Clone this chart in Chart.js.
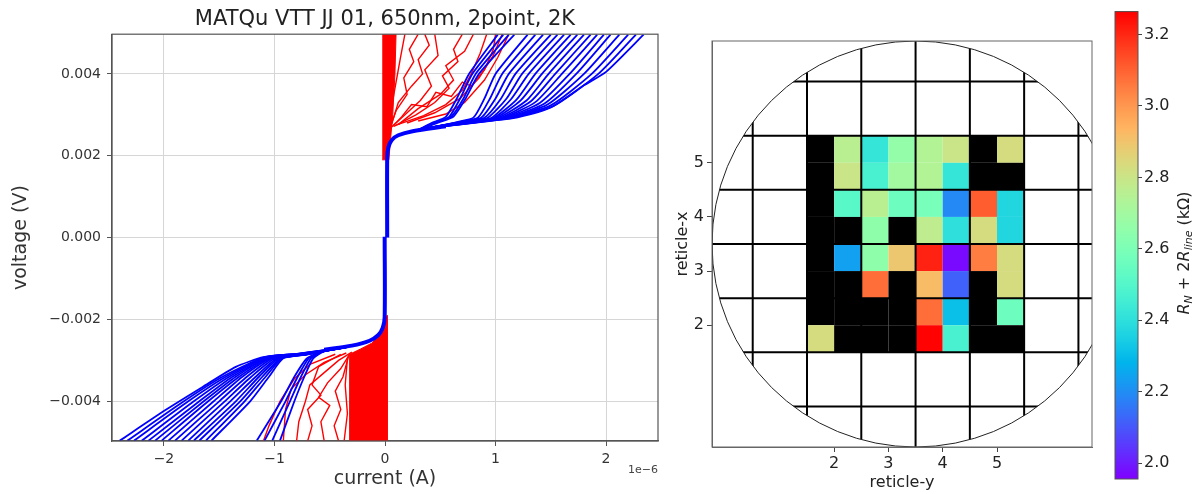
<!DOCTYPE html>
<html>
<head>
<meta charset="utf-8">
<script src="https://cdn.jsdelivr.net/npm/chart.js@4.4.0/dist/chart.umd.min.js"></script>
<style>
body { margin: 0; background: #fff; width: 1197px; height: 494px; overflow: hidden; position: relative; }
canvas { position: absolute; top: 0; }
#ivChart { left: 0; }
#mapChart { left: 670px; }
#barChart { left: 1100px; }
</style>
</head>
<body>
<canvas id="ivChart" width="670" height="494"></canvas>
<canvas id="mapChart" width="430" height="494"></canvas>
<canvas id="barChart" width="97" height="494"></canvas>
<script>
// IV curves: current in 1e-6 A, voltage in mV
const currentTicks = [-2, -1, 0, 1, 2];
const voltTicks = [-4, -2, 0, 2, 4];

const blueCorePos = [[0.02, 0], [0.02, 1.95], [0.03, 2.2], [0.06, 2.38], [0.12, 2.5], [0.25, 2.6], [0.55, 2.72]];
const blueCoreNeg = [[-0.003, 0.02], [-0.003, -1.95], [-0.02, -2.2], [-0.06, -2.38], [-0.14, -2.52], [-0.3, -2.64], [-0.55, -2.74]];

const bluePosTails = [
    [[0.4, 2.68], [0.66, 2.83], [0.8, 2.93], [0.9, 3.4], [1.0, 4.0], [1.29, 4.96]],
    [[0.4, 2.68], [0.68, 2.83], [0.84, 2.93], [0.95, 3.4], [1.06, 4.0], [1.36, 4.96]],
    [[0.4, 2.68], [0.7, 2.83], [0.87, 2.93], [1.0, 3.4], [1.12, 4.0], [1.43, 4.96]],
    [[0.4, 2.68], [0.72, 2.84], [0.9, 2.93], [1.05, 3.4], [1.18, 4.0], [1.5, 4.96]],
    [[0.4, 2.68], [0.74, 2.84], [0.93, 2.93], [1.1, 3.4], [1.24, 4.0], [1.56, 4.96]],
    [[0.4, 2.68], [0.76, 2.84], [0.96, 2.92], [1.14, 3.38], [1.3, 4.0], [1.62, 4.96]],
    [[0.4, 2.68], [0.78, 2.84], [0.98, 2.92], [1.19, 3.37], [1.36, 4.0], [1.68, 4.96]],
    [[0.4, 2.68], [0.8, 2.84], [1.0, 2.92], [1.23, 3.36], [1.42, 4.0], [1.74, 4.96]],
    [[0.4, 2.68], [0.82, 2.85], [1.02, 2.92], [1.28, 3.35], [1.48, 4.0], [1.8, 4.96]],
    [[0.4, 2.68], [0.84, 2.85], [1.04, 2.92], [1.32, 3.33], [1.54, 4.0], [1.86, 4.96]],
    [[0.4, 2.68], [0.86, 2.85], [1.06, 2.92], [1.36, 3.31], [1.6, 4.0], [1.92, 4.96]],
    [[0.4, 2.68], [0.88, 2.85], [1.08, 2.92], [1.4, 3.29], [1.67, 4.0], [1.98, 4.96]],
    [[0.4, 2.68], [0.9, 2.86], [1.1, 2.92], [1.44, 3.27], [1.73, 4.0], [2.04, 4.96]],
    [[0.4, 2.68], [0.92, 2.86], [1.12, 2.93], [1.47, 3.25], [1.8, 4.0], [2.12, 4.96]],
    [[0.4, 2.68], [0.94, 2.86], [1.14, 2.93], [1.5, 3.23], [1.87, 4.0], [2.2, 4.96]],
    [[0.4, 2.68], [0.96, 2.86], [1.16, 2.93], [1.52, 3.21], [1.93, 4.0], [2.27, 4.96]],
    [[0.4, 2.68], [0.98, 2.86], [1.2, 2.94], [1.5, 3.18], [1.8, 3.72], [2.0, 4.05], [2.34, 4.96]],
    [[0.3, 2.63], [0.42, 2.8], [0.55, 2.95], [0.65, 3.4], [0.76, 4.0], [1.02, 4.96]],
    [[0.3, 2.63], [0.44, 2.8], [0.58, 2.95], [0.68, 3.4], [0.79, 4.0], [1.07, 4.96]],
    [[0.3, 2.63], [0.46, 2.81], [0.6, 2.96], [0.71, 3.4], [0.82, 4.0], [1.12, 4.96]],
    [[0.3, 2.63], [0.48, 2.81], [0.62, 2.96], [0.73, 3.4], [0.85, 4.0], [1.17, 4.96]]
];

const blueNegTails = [
    [[-0.4, -2.7], [-0.8, -2.84], [-1.1, -2.92], [-1.35, -3.16], [-1.65, -3.65], [-1.99, -4.22], [-2.4, -4.96]],
    [[-0.4, -2.7], [-0.79, -2.84], [-1.09, -2.92], [-1.47, -3.4], [-1.82, -4.0], [-2.33, -4.96]],
    [[-0.4, -2.7], [-0.78, -2.84], [-1.08, -2.92], [-1.44, -3.4], [-1.78, -4.0], [-2.27, -4.96]],
    [[-0.4, -2.7], [-0.77, -2.84], [-1.07, -2.92], [-1.41, -3.4], [-1.73, -4.0], [-2.2, -4.96]],
    [[-0.4, -2.7], [-0.76, -2.85], [-1.06, -2.93], [-1.38, -3.4], [-1.68, -4.0], [-2.14, -4.96]],
    [[-0.4, -2.7], [-0.76, -2.85], [-1.05, -2.93], [-1.35, -3.4], [-1.64, -4.0], [-2.08, -4.96]],
    [[-0.4, -2.7], [-0.75, -2.85], [-1.04, -2.93], [-1.32, -3.4], [-1.6, -4.0], [-2.02, -4.96]],
    [[-0.4, -2.7], [-0.75, -2.85], [-1.03, -2.94], [-1.29, -3.4], [-1.55, -4.0], [-1.96, -4.96]],
    [[-0.4, -2.7], [-0.74, -2.85], [-1.01, -2.94], [-1.25, -3.4], [-1.5, -4.0], [-1.9, -4.96]],
    [[-0.4, -2.7], [-0.74, -2.86], [-0.99, -2.94], [-1.21, -3.4], [-1.45, -4.0], [-1.84, -4.96]],
    [[-0.4, -2.7], [-0.73, -2.86], [-0.97, -2.94], [-1.17, -3.4], [-1.4, -4.0], [-1.78, -4.96]],
    [[-0.4, -2.7], [-0.73, -2.86], [-0.96, -2.95], [-1.14, -3.4], [-1.35, -4.0], [-1.73, -4.96]],
    [[-0.4, -2.7], [-0.72, -2.86], [-0.94, -2.95], [-1.11, -3.4], [-1.31, -4.0], [-1.68, -4.96]],
    [[-0.4, -2.7], [-0.72, -2.86], [-0.93, -2.95], [-1.08, -3.4], [-1.27, -4.0], [-1.62, -4.96]],
    [[-0.4, -2.7], [-0.71, -2.86], [-0.92, -2.95], [-1.05, -3.4], [-1.22, -4.0], [-1.57, -4.96]],
    [[-0.35, -2.68], [-0.55, -2.78], [-0.65, -2.95], [-0.73, -3.4], [-0.82, -4.0], [-0.95, -4.96]],
    [[-0.35, -2.68], [-0.56, -2.78], [-0.67, -2.95], [-0.76, -3.4], [-0.86, -4.0], [-1.02, -4.96]],
    [[-0.35, -2.68], [-0.57, -2.79], [-0.69, -2.95], [-0.79, -3.4], [-0.9, -4.0], [-1.09, -4.96]],
    [[-0.35, -2.68], [-0.58, -2.79], [-0.71, -2.96], [-0.82, -3.4], [-0.94, -4.0], [-1.16, -4.96]]
];

const redBandPos = [[-0.025, 1.9], [0.035, 1.9], [0.05, 2.4], [0.07, 3.0], [0.09, 4.0], [0.1, 4.97], [-0.025, 4.97]];
const redBandNeg = [[0.02, -1.9], [0.02, -4.97], [-0.32, -4.97], [-0.32, -2.85], [-0.22, -2.72], [-0.12, -2.58], [-0.05, -2.4], [-0.015, -2.1]];

const redPosCurves = [
    [[0.03, 2.6], [0.06, 3.2], [0.1, 3.8], [0.14, 4.4], [0.18, 4.97]],
    [[0.04, 2.65], [0.1, 3.1], [0.2, 3.5], [0.17, 3.9], [0.26, 4.3], [0.22, 4.6], [0.3, 4.97]],
    [[0.06, 2.7], [0.2, 3.05], [0.32, 3.35], [0.42, 3.7], [0.36, 4.1], [0.48, 4.45], [0.45, 4.97]],
    [[0.08, 2.72], [0.28, 3.0], [0.45, 3.3], [0.58, 3.65], [0.52, 3.95], [0.66, 4.3], [0.62, 4.6], [0.7, 4.97]],
    [[0.1, 2.75], [0.35, 2.98], [0.55, 3.25], [0.7, 3.6], [0.78, 4.0], [0.86, 4.5], [0.92, 4.97]],
    [[0.12, 2.76], [0.3, 3.15], [0.5, 3.5], [0.62, 3.85], [0.55, 4.2], [0.72, 4.55], [0.8, 4.97]],
    [[0.2, 2.8], [0.45, 3.05], [0.68, 3.4], [0.85, 3.9], [0.98, 4.45], [1.06, 4.97]],
    [[0.3, 2.85], [0.55, 3.02], [0.72, 3.3], [0.9, 3.85], [1.02, 4.4], [1.12, 4.97]],
    [[0.05, 2.68], [0.12, 3.3], [0.24, 3.7], [0.34, 4.0], [0.3, 4.35], [0.4, 4.7], [0.36, 4.97]],
    [[0.07, 2.72], [0.15, 2.95], [0.24, 3.25], [0.38, 3.2], [0.46, 3.55], [0.6, 3.45], [0.7, 3.8], [0.78, 3.7], [0.9, 4.1], [0.98, 4.6], [1.0, 4.97]]
];

const redNegCurves = [
    [[-0.3, -2.8], [-0.42, -3.0], [-0.55, -3.3], [-0.68, -3.6], [-0.72, -4.0], [-0.78, -4.5], [-0.8, -4.97]],
    [[-0.32, -2.85], [-0.4, -3.2], [-0.52, -3.55], [-0.6, -3.9], [-0.5, -4.1], [-0.58, -4.5], [-0.55, -4.97]],
    [[-0.33, -2.9], [-0.38, -3.4], [-0.45, -3.75], [-0.4, -4.2], [-0.46, -4.6], [-0.42, -4.97]],
    [[-0.35, -2.82], [-0.55, -3.05], [-0.72, -3.35], [-0.85, -3.7], [-0.9, -4.2], [-0.92, -4.97]],
    [[-0.34, -2.95], [-0.36, -3.6], [-0.34, -4.3], [-0.37, -4.97]],
    [[-0.4, -2.85], [-0.6, -3.15], [-0.66, -3.6], [-0.58, -3.85], [-0.7, -4.2], [-0.66, -4.6], [-0.7, -4.97]],
    [[-0.45, -2.85], [-0.68, -3.1], [-0.82, -3.45], [-0.95, -4.0], [-1.05, -4.6], [-1.1, -4.97]]
];

// wafer map: reticle coordinates, R_N + 2R_line in kOhm (null = black / no value)
const reticleTicks = [2, 3, 4, 5];
const reticleEdges = [0.5, 1.5, 2.5, 3.5, 4.5, 5.5, 6.5];
const subCellX = [1.75, 2.25, 2.75, 3.25, 3.75, 4.25, 4.75, 5.25];
const subCellY = [5.25, 4.75, 4.25, 3.75, 3.25, 2.75, 2.25, 1.75];
const rnValues = [
    [null, 2.76, 2.42, 2.66, 2.74, 2.80, null, 2.83],
    [null, 2.80, 2.47, 2.70, 2.74, 2.42, null, null],
    [null, 2.51, 2.76, 2.56, 2.59, 2.19, 3.11, 2.37],
    [null, null, 2.65, null, 2.77, 2.40, 2.83, 2.37],
    [null, 2.24, 2.65, 2.89, 3.21, 1.97, 3.05, 2.83],
    [null, null, 3.08, null, 2.92, 2.12, null, 2.83],
    [null, null, null, null, 3.08, 2.31, null, 2.56],
    [2.83, null, null, null, 3.26, 2.47, null, null]
];
const colorTicks = [2.0, 2.2, 2.4, 2.6, 2.8, 3.0, 3.2];
const colorMin = 1.956;
const colorMax = 3.264;

const FONT = 'DejaVu Sans';
const cellHalf = 0.25;
const waferCenter = 3.5;
const waferRadius = 3.75;

function rainbow(t) {
    t = Math.max(0, Math.min(1, t));
    const r = Math.min(1, Math.abs(2 * t - 0.5));
    const g = Math.sin(Math.PI * t);
    const b = Math.cos(Math.PI * t / 2);
    return `rgb(${Math.round(r * 255)},${Math.round(g * 255)},${Math.round(b * 255)})`;
}
function valueColor(v) {
    return rainbow((v - colorMin) / (colorMax - colorMin));
}
const minus = s => String(s).replace('-', '\u2212');

// ---------- left: IV curves ----------
let ivSets = [];
[blueCorePos, blueCoreNeg].forEach(d => {
    ivSets.push({ data: d, borderColor: '#0000ff', borderWidth: 4, tension: 0.3 });
});
bluePosTails.concat(blueNegTails).forEach(d => {
    ivSets.push({ data: d, borderColor: '#0000ff', borderWidth: 1.8, tension: 0.2 });
});
redPosCurves.concat(redNegCurves).forEach(d => {
    ivSets.push({ data: d, borderColor: '#ff0000', borderWidth: 1.4, tension: 0 });
});
[redBandPos, redBandNeg].forEach(d => {
    ivSets.push({ data: d, borderColor: '#ff0000', backgroundColor: '#ff0000', borderWidth: 1, fill: 'shape', tension: 0 });
});
ivSets.forEach(s => { s.pointRadius = 0; s.clip = 0; });

const boxPlugin = {
    id: 'box',
    afterDraw(chart, args, opts) {
        const a = chart.chartArea, ctx = chart.ctx;
        ctx.save();
        ctx.strokeStyle = opts.color || '#444';
        ctx.lineWidth = opts.width || 1;
        ctx.strokeRect(a.left, a.top, a.right - a.left, a.bottom - a.top);
        if (opts.offsetText) {
            ctx.fillStyle = '#444';
            ctx.font = '11px ' + FONT;
            ctx.textAlign = 'right';
            ctx.textBaseline = 'middle';
            ctx.fillText(opts.offsetText, a.right, 470);
        }
        ctx.restore();
    }
};

new Chart(document.getElementById('ivChart'), {
    type: 'line',
    data: { datasets: ivSets },
    options: {
        responsive: false,
        animation: false,
        layout: { padding: { right: 12 } },
        plugins: {
            legend: { display: false },
            tooltip: { enabled: false },
            title: {
                display: true, fullSize: false,
                text: 'MATQu VTT JJ 01, 650nm, 2point, 2K',
                font: { family: FONT, size: 21, weight: 'normal' }, color: '#222',
                padding: { top: 7, bottom: 2 }
            },
            box: { color: '#555', width: 1.2, offsetText: '1e\u22126' }
        },
        scales: {
            x: {
                type: 'linear', min: -2.47, max: 2.47,
                afterBuildTicks: s => { s.ticks = currentTicks.map(v => ({ value: v })); },
                afterFit: s => { s.height = 53; },
                grid: { color: '#d6d6d6', tickColor: '#555', tickLength: 5 },
                border: { color: '#555', width: 1.2 },
                ticks: { font: { family: FONT, size: 14 }, color: '#333', padding: 5, maxRotation: 0, callback: v => minus(v) },
                title: { display: true, text: 'current (A)', font: { family: FONT, size: 19 }, color: '#333', padding: { top: 0, bottom: 4 } }
            },
            y: {
                type: 'linear', min: -4.97, max: 4.97,
                afterBuildTicks: s => { s.ticks = voltTicks.map(v => ({ value: v })); },
                afterFit: s => { s.width = 112; },
                grid: { color: '#d6d6d6', tickColor: '#555', tickLength: 5 },
                border: { color: '#555', width: 1.2 },
                ticks: { font: { family: FONT, size: 14 }, color: '#333', padding: 6, callback: v => minus((v / 1000).toFixed(3)) },
                title: { display: true, text: 'voltage (V)', font: { family: FONT, size: 19 }, color: '#333', padding: { top: 10, bottom: 0 } }
            }
        }
    },
    plugins: [boxPlugin]
});

// ---------- middle: wafer map ----------
let cells = [];
rnValues.forEach((row, r) => {
    row.forEach((v, c) => cells.push({ x: subCellX[c], y: subCellY[r], v: v }));
});

const waferPlugin = {
    id: 'wafer',
    beforeDatasetsDraw(chart) {
        const ctx = chart.ctx, a = chart.chartArea;
        const xs = chart.scales.x, ys = chart.scales.y;
        ctx.save();
        ctx.beginPath();
        ctx.rect(a.left, a.top, a.right - a.left, a.bottom - a.top);
        ctx.clip();
        chart.data.datasets[0].data.forEach(d => {
            const x0 = xs.getPixelForValue(d.x - cellHalf), x1 = xs.getPixelForValue(d.x + cellHalf);
            const y0 = ys.getPixelForValue(d.y + cellHalf), y1 = ys.getPixelForValue(d.y - cellHalf);
            ctx.fillStyle = d.v === null ? '#000' : valueColor(d.v);
            ctx.fillRect(x0, y0, x1 - x0, y1 - y0);
        });
        const cx = xs.getPixelForValue(waferCenter), cy = ys.getPixelForValue(waferCenter);
        const rx = xs.getPixelForValue(waferCenter + waferRadius) - cx;
        const ry = cy - ys.getPixelForValue(waferCenter + waferRadius);
        ctx.save();
        ctx.beginPath();
        ctx.ellipse(cx, cy, rx, ry, 0, 0, Math.PI * 2);
        ctx.clip();
        ctx.strokeStyle = '#000';
        ctx.lineWidth = 2;
        reticleEdges.forEach(e => {
            const px = xs.getPixelForValue(e), py = ys.getPixelForValue(e);
            ctx.beginPath();
            ctx.moveTo(px, a.top); ctx.lineTo(px, a.bottom);
            ctx.moveTo(a.left, py); ctx.lineTo(a.right, py);
            ctx.stroke();
        });
        ctx.restore();
        ctx.strokeStyle = '#222';
        ctx.lineWidth = 1;
        ctx.beginPath();
        ctx.ellipse(cx, cy, rx, ry, 0, 0, Math.PI * 2);
        ctx.stroke();
        ctx.restore();
    }
};

new Chart(document.getElementById('mapChart'), {
    type: 'scatter',
    data: { datasets: [{ data: cells, pointRadius: 0 }] },
    options: {
        responsive: false,
        animation: false,
        layout: { padding: { right: 8, top: 41 } },
        plugins: { legend: { display: false }, tooltip: { enabled: false }, box: { color: '#666', width: 1 } },
        scales: {
            x: {
                type: 'linear', min: -0.25, max: 6.75,
                afterBuildTicks: s => { s.ticks = reticleTicks.map(v => ({ value: v })); },
                afterFit: s => { s.height = 47; },
                grid: { drawOnChartArea: false, tickColor: '#444', tickLength: 5 },
                border: { color: '#666', width: 1 },
                ticks: { font: { family: FONT, size: 16 }, color: '#222', padding: 2, maxRotation: 0 },
                title: { display: true, text: 'reticle-y', font: { family: FONT, size: 16 }, color: '#222', padding: { top: 0, bottom: 2 } }
            },
            y: {
                type: 'linear', min: -0.25, max: 7.25,
                afterBuildTicks: s => { s.ticks = reticleTicks.map(v => ({ value: v })); },
                afterFit: s => { s.width = 42; },
                grid: { drawOnChartArea: false, tickColor: '#444', tickLength: 5 },
                border: { color: '#666', width: 1 },
                ticks: { font: { family: FONT, size: 16 }, color: '#222', padding: 3 },
                title: { display: true, text: 'reticle-x', font: { family: FONT, size: 16 }, color: '#222', padding: { top: 3, bottom: 0 } }
            }
        }
    },
    plugins: [waferPlugin, boxPlugin]
});

// ---------- right: colour bar ----------
const colorbarPlugin = {
    id: 'colorbar',
    beforeDatasetsDraw(chart) {
        const ctx = chart.ctx, a = chart.chartArea, ys = chart.scales.y;
        for (let py = Math.floor(a.top); py < a.bottom; py++) {
            ctx.fillStyle = valueColor(ys.getValueForPixel(py + 0.5));
            ctx.fillRect(a.left, py, a.right - a.left, 1);
        }
    },
    afterDraw(chart) {
        const ctx = chart.ctx;
        const parts = [
            { t: 'R', f: 'italic 16px ' + FONT, dy: 0 },
            { t: 'N', f: 'italic 11px ' + FONT, dy: 4 },
            { t: ' + 2', f: '16px ' + FONT, dy: 0 },
            { t: 'R', f: 'italic 16px ' + FONT, dy: 0 },
            { t: 'line', f: 'italic 11px ' + FONT, dy: 4 },
            { t: ' (k\u03a9)', f: '16px ' + FONT, dy: 0 }
        ];
        ctx.save();
        let total = 0;
        parts.forEach(p => { ctx.font = p.f; p.w = ctx.measureText(p.t).width; total += p.w; });
        ctx.translate(85, 253);
        ctx.rotate(-Math.PI / 2);
        ctx.fillStyle = '#222';
        ctx.textBaseline = 'middle';
        let x = -total / 2;
        parts.forEach(p => { ctx.font = p.f; ctx.fillText(p.t, x, p.dy); x += p.w; });
        ctx.restore();
    }
};

new Chart(document.getElementById('barChart'), {
    type: 'scatter',
    data: { datasets: [{ data: [], pointRadius: 0 }] },
    options: {
        responsive: false,
        animation: false,
        layout: { padding: { left: 15, top: 8, bottom: 15 } },
        plugins: { legend: { display: false }, tooltip: { enabled: false }, box: { color: '#555', width: 1 } },
        scales: {
            x: { display: false, min: 0, max: 1 },
            y: {
                type: 'linear', position: 'right', min: colorMin, max: colorMax,
                afterBuildTicks: s => { s.ticks = colorTicks.map(v => ({ value: v })); },
                afterFit: s => { s.width = 59; },
                grid: { drawOnChartArea: false, tickColor: '#444', tickLength: 4 },
                border: { display: false },
                ticks: { font: { family: FONT, size: 16 }, color: '#222', padding: 2, callback: v => v.toFixed(1) }
            }
        }
    },
    plugins: [colorbarPlugin, boxPlugin]
});
</script>
</body>
</html>
